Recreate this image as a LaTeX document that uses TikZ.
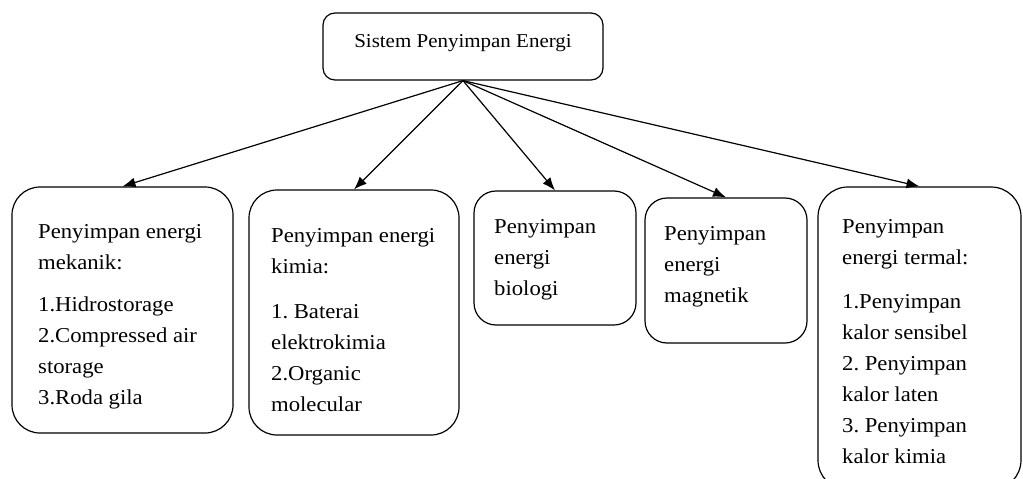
\documentclass[tikz,border=0pt]{standalone}
\usepackage{fontspec}
\setmainfont{Liberation Serif}[FakeStretch=1.07]
\usetikzlibrary{arrows.meta}
\frenchspacing
\begin{document}
\begin{tikzpicture}[x=1pt,y=-1pt,
  box/.style={draw, line width=1.2pt, inner sep=0pt},
  txt/.style={anchor=north west, inner sep=0pt, align=left, font=\fontsize{21.2}{31}\selectfont\frenchspacing},
  conn/.style={line width=1.2pt, -{Latex[length=13pt,width=10pt]}}]
\useasboundingbox (0,0) rectangle (1023,479);
\clip (0,0) rectangle (1023,479);
% top
\node[box, rounded corners=12pt, minimum width=280pt, minimum height=67pt] (top) at (463,46.5) {};
\node[anchor=base, inner sep=0pt, font=\fontsize{19.6}{23}\selectfont] (toptext) at (463,47) {Sistem Penyimpan Energi};
% boxes
\node[box, rounded corners=28pt, minimum width=221pt, minimum height=246pt] (b1) at (122.5,310) {};
\node[box, rounded corners=28pt, minimum width=210pt, minimum height=245pt] (b2) at (354,312.5) {};
\node[box, rounded corners=22pt, minimum width=162pt, minimum height=134pt] (b3) at (555,258) {};
\node[box, rounded corners=22pt, minimum width=162pt, minimum height=145pt] (b4) at (726,270.5) {};
\node[box, rounded corners=30pt, minimum width=203pt, minimum height=303pt] (b5) at (919.5,338.5) {};
% texts
\node[txt] (t1) at (38,223) {\rule{0pt}{15pt}Penyimpan energi\\mekanik:\\[11pt]1.Hidrostorage\\2.Compressed air\\storage\\3.Roda gila};
\node[txt] (t2) at (271,227) {\rule{0pt}{15pt}Penyimpan energi\\kimia:\\[14pt]1. Baterai\\elektrokimia\\2.Organic\\molecular};
\node[txt] (t3) at (494,218) {\rule{0pt}{15pt}Penyimpan\\energi\\biologi};
\node[txt] (t4) at (664,225) {\rule{0pt}{15pt}Penyimpan\\energi\\magnetik};
\node[txt] (t5) at (842,218) {\rule{0pt}{15pt}Penyimpan\\energi termal:\\[13pt]1.Penyimpan\\kalor sensibel\\2. Penyimpan\\kalor laten\\3. Penyimpan\\kalor kimia};
% connectors
\draw[conn] (top.south) -- (b1.north);
\draw[conn] (top.south) -- (b2.north);
\draw[conn] (top.south) -- (b3.north);
\draw[conn] (top.south) -- (b4.north);
\draw[conn] (top.south) -- (b5.north);
\end{tikzpicture}
\end{document}
